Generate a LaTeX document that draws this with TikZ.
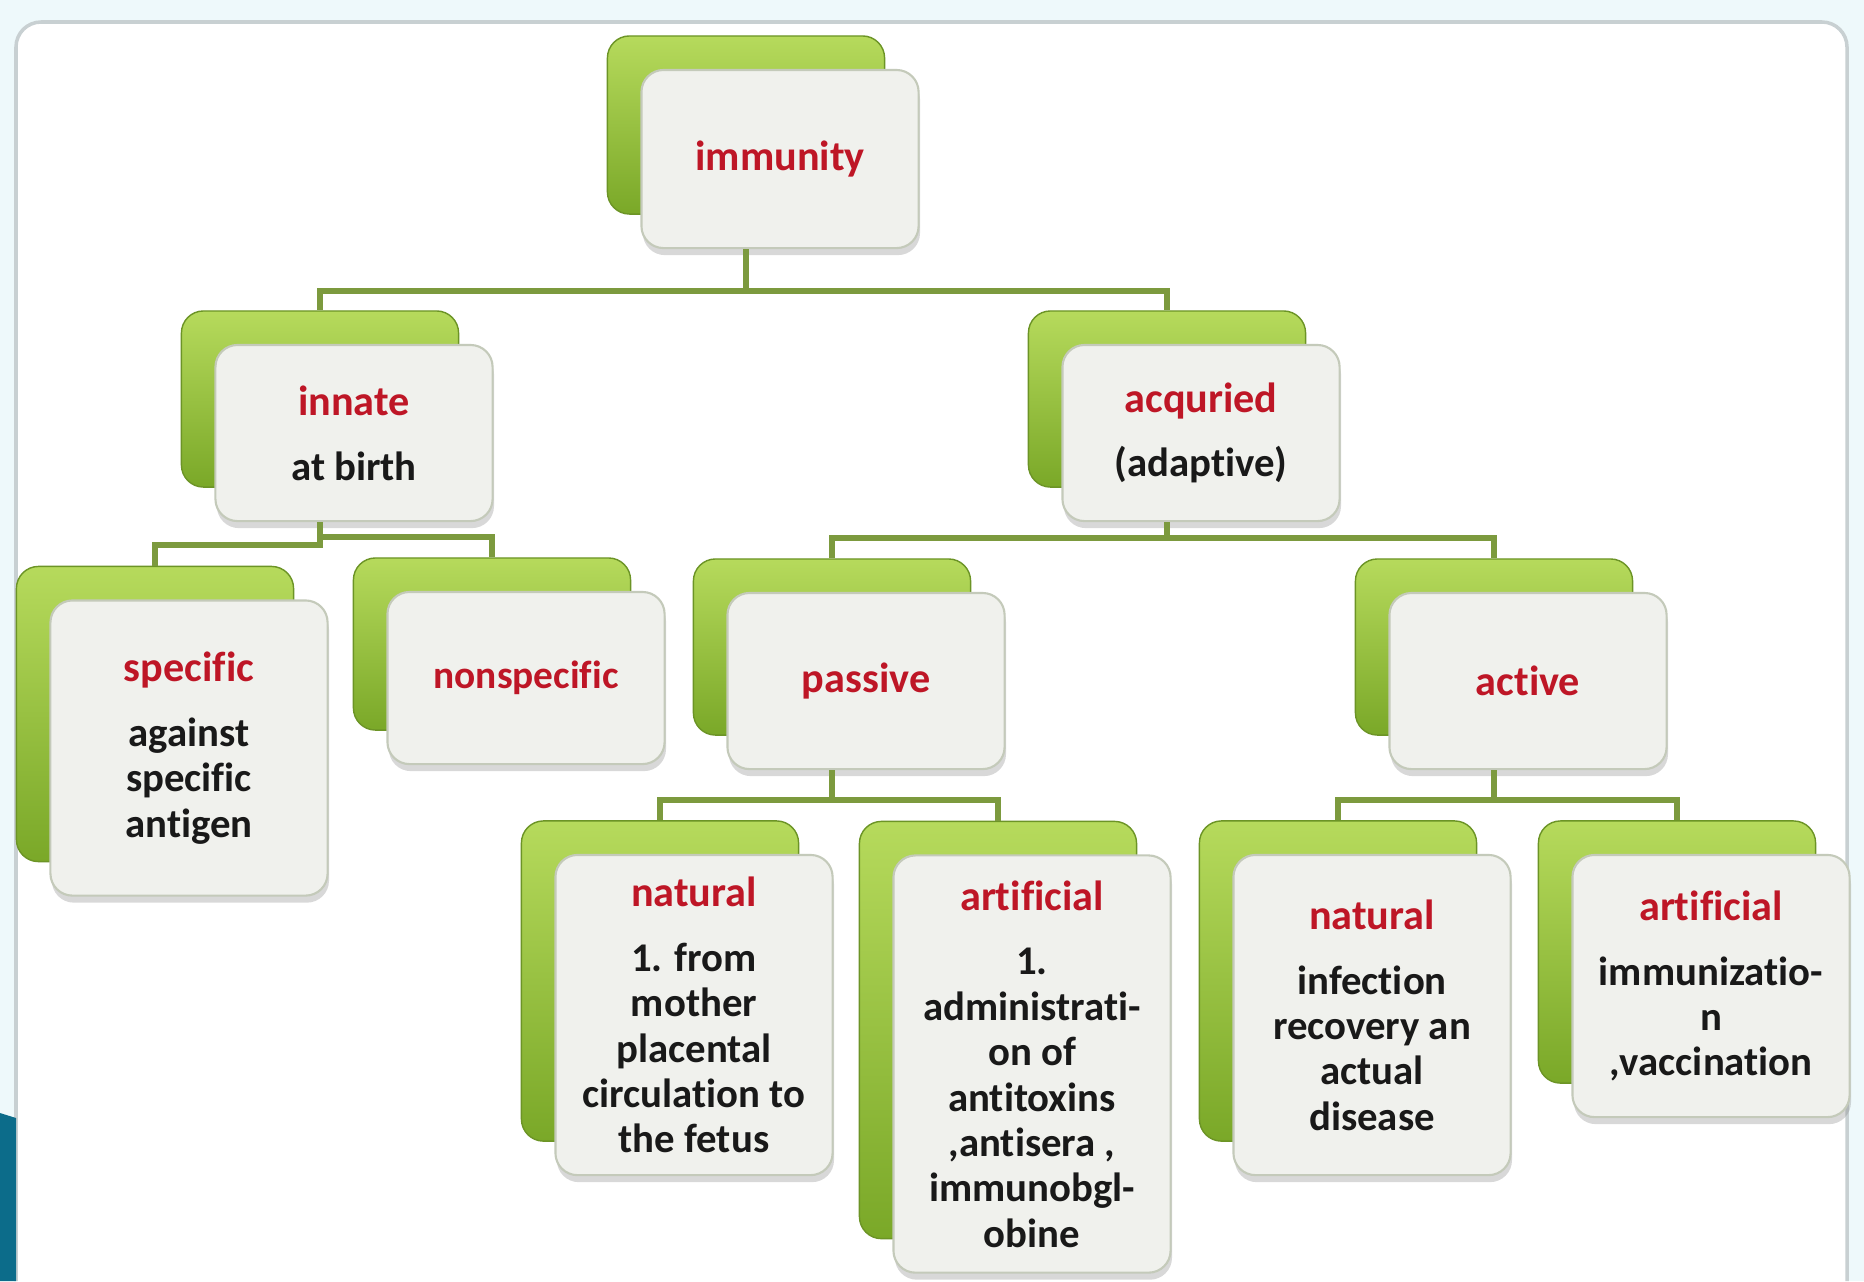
\documentclass[tikz,border=0pt]{standalone}
\usepackage{fontspec}
\setmainfont{Carlito}[Ligatures=NoCommon]
\usepackage{xcolor}
\usepackage{tikz}
\usetikzlibrary{shadows}
\definecolor{leafdark}{RGB}{122,168,40}
\definecolor{leaflight}{RGB}{182,218,92}
\definecolor{leafedge}{RGB}{108,148,38}
\definecolor{cardfill}{RGB}{240,241,237}
\definecolor{cardedge}{RGB}{196,202,186}
\definecolor{linkgreen}{RGB}{124,154,62}
\definecolor{titlered}{RGB}{190,22,38}
\definecolor{framegray}{RGB}{200,208,210}
\definecolor{paneblue}{RGB}{238,249,251}
\definecolor{slideteal}{RGB}{12,108,138}
\tikzstyle{back} = [rectangle, rounded corners=0.22cm, minimum width=2.77cm, top color=leaflight, bottom color=leafdark, draw=leafedge, line width=0.4pt]
\tikzstyle{front} = [rectangle, rounded corners=0.22cm, minimum width=2.77cm, fill=cardfill, draw=cardedge, line width=0.6pt, xshift=0.34cm, yshift=-0.34cm, align=center, text=black!90, inner sep=0pt, font=\bfseries\fontsize{11.6}{12.9}\selectfont, drop shadow={shadow xshift=0.4pt, shadow yshift=-2pt, opacity=0.3}]
\tikzstyle{link} = [draw=linkgreen, line width=1.7pt]
\newcommand{\cardtitle}[1]{\textcolor{titlered}{\fontsize{12}{12.9}\selectfont #1}}

\begin{document}
\begin{tikzpicture}[x=0.01cm, y=-0.01cm]

\fill [paneblue] (0,0) rectangle (1864,1281);
\useasboundingbox (0,0) rectangle (1864,1281);
\draw [framegray, line width=1pt, fill=white, rounded corners=0.25cm] (16,1281) -- (16,22) -- (1847,22) -- (1847,1281);
\fill [slideteal] (0,1113) -- (16,1118) -- (16,1281) -- (0,1281) -- cycle;

\node (imm) [back, minimum height=1.78cm] at (746,125) {};
\node (immt) [front, minimum height=1.78cm] at (imm) {\cardtitle{immunity}};

\node (inn) [back, minimum height=1.76cm] at (320,399) {};
\node (innt) [front, minimum height=1.76cm] at (inn) {\cardtitle{innate}\\[5.5pt] at birth};
\node (acq) [back, minimum height=1.76cm] at (1167,399) {};
\node (acqt) [front, minimum height=1.76cm] at (acq) {\cardtitle{acquried}\\[5.5pt] (adaptive)};

\node (spec) [back, minimum height=2.95cm] at (155,714) {};
\node (spect) [front, minimum height=2.95cm] at (spec) {\cardtitle{specific}\\[5.5pt] against\\ specific\\ antigen};
\node (nspec) [back, minimum height=1.72cm] at (492,644) {};
\node (nspect) [front, minimum height=1.72cm, font=\bfseries\fontsize{11.2}{12.9}\selectfont] at (nspec) {\textcolor{titlered}{nonspecific}};
\node (pas) [back, minimum height=1.76cm] at (832,647) {};
\node (past) [front, minimum height=1.76cm] at (pas) {\cardtitle{passive}};
\node (act) [back, minimum height=1.76cm] at (1494,647) {};
\node (actt) [front, minimum height=1.76cm] at (act) {\cardtitle{active}};

\node (pnat) [back, minimum height=3.20cm] at (660,981) {};
\node (pnatt) [front, minimum height=3.20cm] at (pnat) {\cardtitle{natural}\\[5.5pt] 1. from\\ mother\\ placental\\ circulation to\\ the fetus};
\node (part) [back, minimum height=4.17cm] at (998,1030) {};
\node (partt) [front, minimum height=4.17cm] at (part) {\cardtitle{artificial}\\[5.5pt] 1.\\ administrati-\\ on of\\ antitoxins\\ ,antisera ,\\ immunobgl-\\ obine};
\node (anat) [back, minimum height=3.20cm] at (1338,981) {};
\node (anatt) [front, minimum height=3.20cm] at (anat) {\cardtitle{natural}\\[5.5pt] infection\\ recovery an\\ actual\\ disease};
\node (aart) [back, minimum height=2.62cm] at (1677,952) {};
\node (aartt) [front, minimum height=2.62cm] at (aart) {\cardtitle{artificial}\\[5.5pt] immunizatio-\\ n\\ ,vaccination};

\draw [link] (immt.south -| imm) -- ++(0,42) -| (inn.north);
\draw [link] (immt.south -| imm) -- ++(0,42) -| (acq.north);
\draw [link] (innt.south -| inn) -- ++(0,23) -| (spec.north);
\draw [link] (innt.south -| inn) -- ++(0,15) -| (nspec.north);
\draw [link] (acqt.south -| acq) -- ++(0,16) -| (pas.north);
\draw [link] (acqt.south -| acq) -- ++(0,16) -| (act.north);
\draw [link] (past.south -| pas) -- ++(0,30) -| (pnat.north);
\draw [link] (past.south -| pas) -- ++(0,30) -| (part.north);
\draw [link] (actt.south -| act) -- ++(0,30) -| (anat.north);
\draw [link] (actt.south -| act) -- ++(0,30) -| (aart.north);

\end{tikzpicture}
\end{document}
